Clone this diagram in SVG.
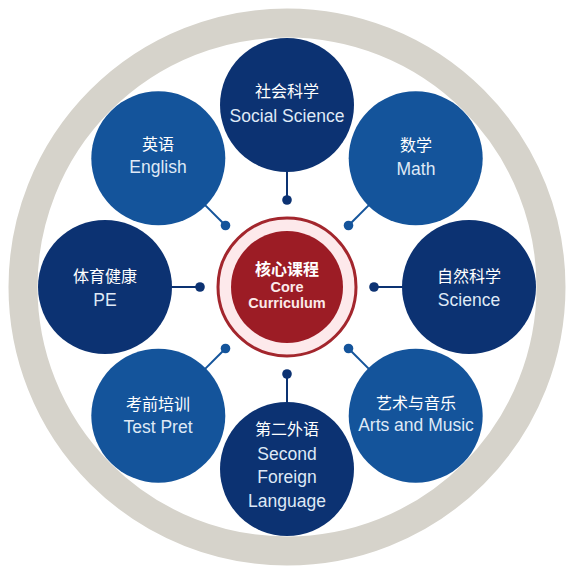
<svg xmlns="http://www.w3.org/2000/svg" width="572" height="572" viewBox="0 0 572 572">
  <style>
    .dark { fill: #0c3272; }
    .mid { fill: #14549b; }
    .cn { font-family: "Liberation Sans", "Noto Sans CJK SC", sans-serif; font-size: 16px; fill: #ffffff; text-anchor: middle; }
    .en { font-family: "Liberation Sans", "Noto Sans CJK SC", sans-serif; font-size: 17.5px; fill: #dfe9f6; text-anchor: middle; }
    .lnd { stroke: #0c3272; stroke-width: 2; }
    .lnm { stroke: #14549b; stroke-width: 2; }
    .dotd { fill: #0c3272; }
    .dotm { fill: #14549b; }
    .corecn { font-family: "Liberation Sans", "Noto Sans CJK SC", sans-serif; font-size: 16px; font-weight: bold; fill: #ffffff; text-anchor: middle; }
    .coreen { font-family: "Liberation Sans", sans-serif; font-size: 14.5px; font-weight: bold; fill: #fbeaea; text-anchor: middle; }
  </style>
  <rect width="572" height="572" fill="#ffffff"/>
  <circle id="ring" cx="287" cy="287" r="264" fill="none" stroke="#d6d3cb" stroke-width="29"/>

  <g id="connectors">
    <line class="lnd" x1="287" y1="200" x2="287" y2="167"/>
    <circle class="dotd" cx="287" cy="200" r="4.8"/>
    <line class="lnm" x1="348.5" y1="225.5" x2="371.9" y2="202.1"/>
    <circle class="dotm" cx="348.5" cy="225.5" r="4.8"/>
    <line class="lnd" x1="374" y1="287" x2="407" y2="287"/>
    <circle class="dotd" cx="374" cy="287" r="4.8"/>
    <line class="lnm" x1="348.5" y1="348.5" x2="371.9" y2="371.9"/>
    <circle class="dotm" cx="348.5" cy="348.5" r="4.8"/>
    <line class="lnd" x1="287" y1="374" x2="287" y2="407"/>
    <circle class="dotd" cx="287" cy="374" r="4.8"/>
    <line class="lnm" x1="225.5" y1="348.5" x2="202.1" y2="371.9"/>
    <circle class="dotm" cx="225.5" cy="348.5" r="4.8"/>
    <line class="lnd" x1="200" y1="287" x2="167" y2="287"/>
    <circle class="dotd" cx="200" cy="287" r="4.8"/>
    <line class="lnm" x1="225.5" y1="225.5" x2="202.1" y2="202.1"/>
    <circle class="dotm" cx="225.5" cy="225.5" r="4.8"/>
  </g>

  <g id="core">
    <circle cx="287" cy="287" r="69" fill="#fde9eb" stroke="#a3262d" stroke-width="3"/>
    <circle cx="287" cy="287" r="56" fill="#9c1c25"/>
    <text class="corecn" x="287" y="275">核心课程</text>
    <text class="coreen" x="287" y="292">Core</text>
    <text class="coreen" x="287" y="308">Curriculum</text>
  </g>

  <g id="social-science">
    <circle class="dark" cx="287" cy="105" r="67"/>
    <text class="cn" x="287" y="97">社会科学</text>
    <text class="en" x="287" y="122">Social Science</text>
  </g>
  <g id="math">
    <circle class="mid" cx="415.7" cy="158.3" r="67"/>
    <text class="cn" x="416" y="151">数学</text>
    <text class="en" x="416" y="175">Math</text>
  </g>
  <g id="science">
    <circle class="dark" cx="469" cy="287" r="67"/>
    <text class="cn" x="469" y="282">自然科学</text>
    <text class="en" x="469" y="306">Science</text>
  </g>
  <g id="arts">
    <circle class="mid" cx="415.7" cy="415.7" r="67"/>
    <text class="cn" x="416" y="409">艺术与音乐</text>
    <text class="en" x="416" y="431">Arts and Music</text>
  </g>
  <g id="second-foreign-language">
    <circle class="dark" cx="287" cy="469" r="67"/>
    <text class="cn" x="287" y="435">第二外语</text>
    <text class="en" x="287" y="460">Second</text>
    <text class="en" x="287" y="483">Foreign</text>
    <text class="en" x="287" y="507">Language</text>
  </g>
  <g id="test-prep">
    <circle class="mid" cx="158.3" cy="415.7" r="67"/>
    <text class="cn" x="158" y="410">考前培训</text>
    <text class="en" x="158" y="433">Test Pret</text>
  </g>
  <g id="pe">
    <circle class="dark" cx="105" cy="287" r="67"/>
    <text class="cn" x="105" y="282">体育健康</text>
    <text class="en" x="105" y="306">PE</text>
  </g>
  <g id="english">
    <circle class="mid" cx="158.3" cy="158.3" r="67"/>
    <text class="cn" x="158" y="150">英语</text>
    <text class="en" x="158" y="173">English</text>
  </g>
</svg>
